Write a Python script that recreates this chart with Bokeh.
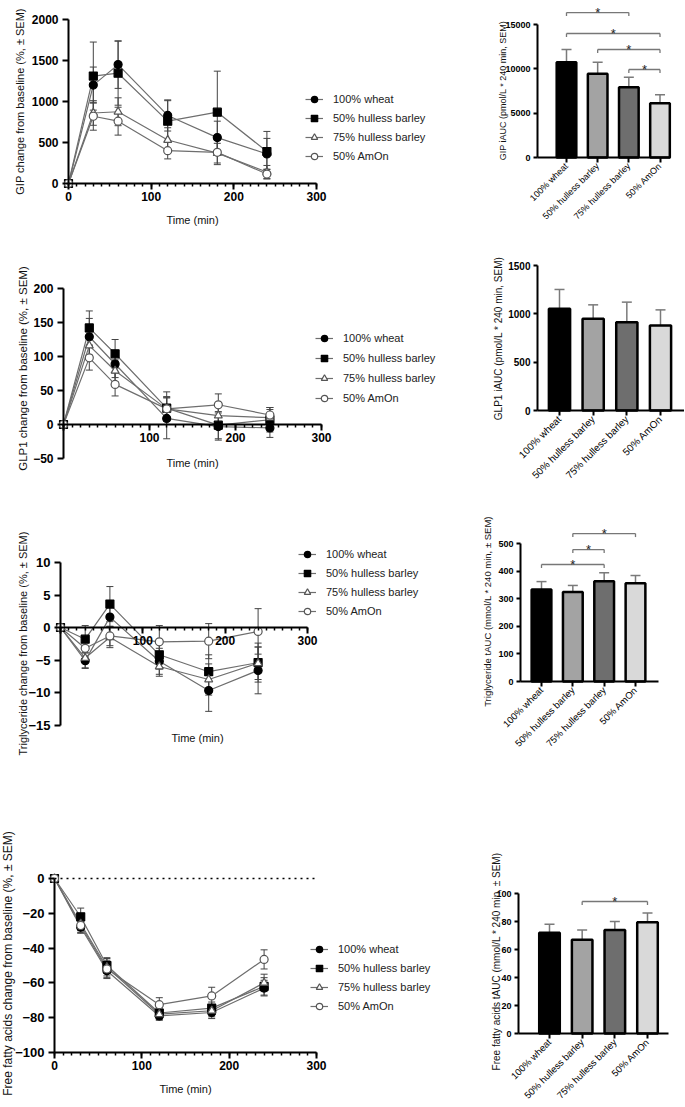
import math
from bokeh.plotting import figure
from bokeh.models import (Range1d, FixedTicker, SingleIntervalTicker, Whisker, TeeHead,
                          ColumnDataSource, Legend, LegendItem, Label)
from bokeh.layouts import row, column
from bokeh.embed import file_html
from bokeh.resources import INLINE
from bokeh.core.properties import value

FONT = "Liberation Sans"

# ---------------- data ----------------
time_min = [0, 30, 60, 120, 180, 240]
groups = ["100% wheat", "50% hulless barley", "75% hulless barley", "50% AmOn"]

gip_wheat = [0, 1200, 1450, 830, 560, 360]
gip_wheat_sem = [0, 220, 290, 190, 200, 190]
gip_h50 = [0, 1310, 1345, 760, 870, 390]
gip_h50_sem = [0, 415, 390, 250, 500, 245]
gip_h75 = [0, 860, 875, 530, 370, 140]
gip_h75_sem = [0, 150, 170, 150, 120, 80]
gip_amon = [0, 820, 760, 400, 380, 115]
gip_amon_sem = [0, 170, 170, 100, 150, 60]

glp1_wheat = [0, 129, 89, 9, -3, -5]
glp1_wheat_sem = [0, 27, 20, 30, 20, 14]
glp1_h50 = [0, 142, 104, 24, -1, 7]
glp1_h50_sem = [0, 25, 21, 24, 20, 18]
glp1_h75 = [0, 116, 79, 23, 13, 10]
glp1_h75_sem = [0, 20, 16, 18, 15, 12]
glp1_amon = [0, 98, 59, 23, 29, 14]
glp1_amon_sem = [0, 18, 17, 17, 16, 11]

tg_wheat = [0, -5.1, 1.6, -5.2, -9.7, -6.6]
tg_wheat_sem = [0, 1.2, 1.5, 2.0, 3.2, 3.6]
tg_h50 = [0, -1.8, 3.6, -4.2, -6.8, -5.4]
tg_h50_sem = [0, 2.1, 2.7, 2.2, 2.6, 3.0]
tg_h75 = [0, -4.7, -1.5, -6.0, -8.0, -5.5]
tg_h75_sem = [0, 1.5, 1.6, 1.5, 2.4, 2.5]
tg_amon = [0, -3.2, -1.3, -2.2, -2.1, -0.6]
tg_amon_sem = [0, 1.2, 1.5, 2.5, 2.7, 3.5]

ffa_wheat = [0, -28, -53, -79, -77, -63]
ffa_wheat_sem = [0, 3.5, 4.5, 2.5, 3.5, 4.5]
ffa_h50 = [0, -22, -50, -77.3, -74.5, -62]
ffa_h50_sem = [0, 5, 4.5, 3, 3.5, 5]
ffa_h75 = [0, -26, -51, -78, -76, -60]
ffa_h75_sem = [0, 4, 5, 3, 3.5, 5]
ffa_amon = [0, -27, -52, -72.5, -67.5, -46.5]
ffa_amon_sem = [0, 4, 5, 4, 5, 5.5]

gip_auc = [10750, 9440, 7930, 6130]
gip_auc_sem = [1430, 1310, 1130, 940]
glp1_auc = [1052, 948, 914, 879]
glp1_auc_sem = [200, 145, 207, 162]
tg_auc = [333, 324, 363, 356]
tg_auc_sem = [29, 24, 31, 28]
ffa_auc = [72, 67, 74, 79.5]
ffa_auc_sem = [6, 7, 6, 6.5]

# significance brackets: (group a, group b, height in data units)
gip_sig = [(1, 3, 16350), (1, 4, 13985), (2, 4, 12180), (3, 4, 9925)]
tg_sig = [(2, 4, 536), (2, 3, 478), (1, 3, 424)]
ffa_sig = [(2, 4, 94.3)]

gip_yticks = [0, 500, 1000, 1500, 2000]
glp1_yticks = [-50, 0, 50, 100, 150, 200]
tg_yticks = [-15, -10, -5, 0, 5, 10]
ffa_yticks = [-100, -80, -60, -40, -20, 0]
gip_auc_ticks = [0, 5000, 10000, 15000]
glp1_auc_ticks = [0, 500, 1000, 1500]
tg_auc_ticks = [0, 100, 200, 300, 400, 500]
ffa_auc_ticks = [0, 20, 40, 60, 80, 100]

# ---------------- styling ----------------
MARKERS = [("circle", "black", "black"), ("square", "black", "black"),
           ("triangle", "white", "#555555"), ("circle", "white", "#555555")]
BAR_COLORS = ["#000000", "#a3a3a3", "#6e6e6e", "#d9d9d9"]
TITLE_COLOR = "#111111"


def to_value(px, m):
    v0, p0, v1, p1 = m
    return v0 + (px - p0) * (v1 - v0) / (p1 - p0)


def make_fig(box, xmap, ymap):
    fx, fy, fw, fh = box
    p = figure(width=fw, height=fh,
               x_range=Range1d(to_value(fx, xmap), to_value(fx + fw, xmap)),
               y_range=Range1d(to_value(fy + fh, ymap), to_value(fy, ymap)),
               toolbar_location=None, output_backend="svg",
               min_border_left=0, min_border_right=0, min_border_top=0, min_border_bottom=0)
    p.outline_line_color = None
    p.xgrid.visible = False
    p.ygrid.visible = False
    p.background_fill_color = "white"
    p.border_fill_color = "white"
    vx = lambda px: to_value(px, xmap)
    vy = lambda py: to_value(py, ymap)
    return p, vx, vy


def style_axis(ax, tick_fs, lw=2):
    ax.axis_line_width = lw
    ax.axis_line_color = "black"
    ax.major_tick_line_width = lw
    ax.major_tick_line_color = "black"
    ax.major_tick_in = 0
    ax.major_tick_out = 6
    ax.minor_tick_line_width = 1.5
    ax.minor_tick_line_color = "black"
    ax.minor_tick_in = 0
    ax.minor_tick_out = 3
    ax.major_label_text_font = FONT
    ax.major_label_text_font_style = "bold"
    ax.major_label_text_font_size = f"{tick_fs}px"
    ax.major_label_text_color = "black"


def title_label(p, x, y, text, fs, vertical):
    p.add_layout(Label(x=x, y=y, text=text, angle=(math.pi / 2 if vertical else 0),
                       text_align="center", text_baseline="middle", text_font=FONT,
                       text_font_size=f"{fs}px", text_color=TITLE_COLOR))


def line_panel(box, xmap, ymap, series, sems, yticks, xaxis_at, ylabel, ytitle_xy, ytitle_fs,
               xtitle_xy, legend_left, legend_bottom, legend_spacing, tick_fs, hide_x0):
    p, vx, vy = make_fig(box, xmap, ymap)
    fx, fy, fw, fh = box
    yax = p.yaxis[0]
    xax = p.xaxis[0]
    yax.fixed_location = 0
    yax.bounds = (min(yticks), max(yticks))
    yax.ticker = FixedTicker(ticks=yticks)
    style_axis(yax, tick_fs)
    yax.major_label_standoff = 4
    xax.fixed_location = xaxis_at
    xax.bounds = (0, 300)
    xax.ticker = SingleIntervalTicker(interval=100, num_minor_ticks=10)
    style_axis(xax, 12)
    xax.major_label_standoff = 2
    if hide_x0:
        xax.major_label_overrides = {0: ""}
    title_label(p, vx(ytitle_xy[0]), vy(ytitle_xy[1]), ylabel, ytitle_fs, True)
    title_label(p, vx(xtitle_xy[0]), vy(xtitle_xy[1]), "Time (min)", 11, False)

    line_rs = []
    for vals in series:
        line_rs.append(p.line(time_min, vals, line_color="#6e6e6e", line_width=1.2))
    for vals, sem in zip(series, sems):
        src = ColumnDataSource(dict(
            x=[t for t, s in zip(time_min, sem) if s > 0],
            lo=[v - s for v, s in zip(vals, sem) if s > 0],
            hi=[v + s for v, s in zip(vals, sem) if s > 0]))
        p.add_layout(Whisker(source=src, base="x", lower="lo", upper="hi",
                             line_color="#444444", line_width=1,
                             upper_head=TeeHead(size=7, line_color="#444444", line_width=1),
                             lower_head=TeeHead(size=7, line_color="#444444", line_width=1)))
    items = []
    for k, vals in enumerate(series):
        mk, fill, line = MARKERS[k]
        sr = p.scatter(time_min, vals, marker=mk, size=8, fill_color=fill,
                       line_color=line, line_width=1.2)
        items.append(LegendItem(label=groups[k], renderers=[line_rs[k], sr]))
    leg = Legend(items=items, location=(legend_left - fx, fy + fh - legend_bottom),
                 orientation="vertical", padding=0, margin=0, spacing=legend_spacing,
                 glyph_width=18, glyph_height=16, label_height=16, label_standoff=10,
                 label_text_font=FONT, label_text_font_size="11px",
                 label_text_color="#222222", border_line_color=None,
                 background_fill_alpha=0)
    p.add_layout(leg)
    return p, vx, vy


def bar_panel(box, xmap, ymap, axis_left, axis_right, vals, sems, yticks, ylabel,
              ytitle_xy, sig, tick_fs, cat_fs, label_fs):
    p, vx, vy = make_fig(box, xmap, ymap)
    pos = list(range(1, len(groups) + 1))
    src = ColumnDataSource(dict(x=pos, lo=vals, hi=[v + s for v, s in zip(vals, sems)]))
    p.add_layout(Whisker(source=src, base="x", lower="lo", upper="hi", lower_head=None,
                         upper_head=TeeHead(size=10, line_color="#7a7a7a", line_width=1.5),
                         line_color="#7a7a7a", line_width=1.5))
    p.vbar(x=pos, top=vals, bottom=0, width=0.63, fill_color=BAR_COLORS,
           line_color="black", line_width=2.5)
    yax = p.yaxis[0]
    xax = p.xaxis[0]
    yax.fixed_location = vx(axis_left)
    yax.bounds = (0, max(yticks))
    yax.ticker = FixedTicker(ticks=yticks)
    style_axis(yax, tick_fs)
    yax.major_tick_out = 4
    yax.major_label_standoff = 3
    xax.fixed_location = 0
    xax.bounds = (vx(axis_left), vx(axis_right))
    xax.ticker = FixedTicker(ticks=pos)
    xax.major_label_overrides = {i: g for i, g in zip(pos, groups)}
    xax.major_label_orientation = math.pi / 4
    style_axis(xax, cat_fs)
    xax.major_label_text_font_style = "normal"
    xax.major_tick_out = 5
    xax.major_label_standoff = 2
    title_label(p, vx(ytitle_xy[0]), vy(ytitle_xy[1]), ylabel, label_fs, True)
    # significance brackets
    tick = vy(0) - vy(3.5)
    bx0, by0, bx1, by1 = [], [], [], []
    sx, sy = [], []
    for a, b, h in sig:
        bx0 += [a, a, b]
        by0 += [h, h, h]
        bx1 += [b, a, b]
        by1 += [h, h - tick, h - tick]
        sx.append((a + b) / 2)
        sy.append(h)
    if sig:
        p.segment(bx0, by0, bx1, by1, line_color="#777777", line_width=1.3)
        p.text(sx, sy, text=["*"] * len(sx), text_align="center",
               text_baseline="alphabetic", text_font=value(FONT),
               text_font_size="13px", text_color="#222222")
    return p


# ---------------- panels (all positions in page pixels) ----------------
pA, _, _ = line_panel((0, 0, 440, 240), (0, 68, 300, 316), (0, 183, 2000, 19),
                      [gip_wheat, gip_h50, gip_h75, gip_amon],
                      [gip_wheat_sem, gip_h50_sem, gip_h75_sem, gip_amon_sem],
                      gip_yticks, 0, "GIP change from baseline (%, \u00b1 SEM)", (19, 101), 11,
                      (192, 219), 305, 164, 3, 12, False)
pB = bar_panel((440, 0, 244, 240), (1, 566, 4, 659.5), (0, 157, 15000, 24), 537, 670,
               gip_auc, gip_auc_sem, gip_auc_ticks, "GIP iAUC (pmol/L * 240 min, SEM)",
               (502, 90), gip_sig, 9, 9, 9)
pC, _, _ = line_panel((0, 240, 440, 260), (0, 63, 300, 321), (0, 424, 200, 288),
                      [glp1_wheat, glp1_h50, glp1_h75, glp1_amon],
                      [glp1_wheat_sem, glp1_h50_sem, glp1_h75_sem, glp1_amon_sem],
                      glp1_yticks, 0, "GLP1 change from baseline (%, \u00b1 SEM)", (22, 368), 11.5,
                      (192, 462), 315, 406, 4, 12, True)
pD = bar_panel((440, 240, 244, 260), (1, 559, 4, 660), (0, 410, 1500, 265), 537, 684,
               glp1_auc, glp1_auc_sem, glp1_auc_ticks, "GLP1 iAUC (pmol/L * 240 min, SEM)",
               (498, 338), [], 10, 10, 10)
pE, _, _ = line_panel((0, 500, 440, 290), (0, 60, 300, 307), (0, 627, 10, 562),
                      [tg_wheat, tg_h50, tg_h75, tg_amon],
                      [tg_wheat_sem, tg_h50_sem, tg_h75_sem, tg_amon_sem],
                      tg_yticks, 0, "Triglyceride change from baseline (%, \u00b1 SEM)", (22, 643), 11,
                      (197, 737), 298, 619, 3, 13, True)
pF = bar_panel((440, 500, 244, 290), (1, 541, 4, 635), (0, 681, 500, 543), 520, 658,
               tg_auc, tg_auc_sem, tg_auc_ticks,
               "Triglyceride tAUC (mmol/L * 240 min, \u00b1 SEM)", (487, 611), tg_sig, 9, 9.5, 9.5)
pG, gvx, gvy = line_panel((0, 790, 440, 316), (0, 54, 300, 316), (0, 878, -100, 1052),
                          [ffa_wheat, ffa_h50, ffa_h75, ffa_amon],
                          [ffa_wheat_sem, ffa_h50_sem, ffa_h75_sem, ffa_amon_sem],
                          ffa_yticks, -100, "Free fatty acids change from baseline (%, \u00b1 SEM)",
                          (7, 963), 12, (185, 1088), 310, 1014, 3, 13, False)
# dotted zero reference line in the FFA panel (spans the time axis)
pG.line([0, 300], [0, 0], line_color="black", line_width=1.5, line_dash="2 4")
pH = bar_panel((440, 790, 244, 316), (1, 549, 4, 647), (0, 1033, 100, 893), 518, 668,
               ffa_auc, ffa_auc_sem, ffa_auc_ticks,
               "Free fatty acids tAUC (mmol/L * 240 min, \u00b1 SEM)", (496, 961), ffa_sig, 9, 9.5, 10)

layout = column(row(pA, pB), row(pC, pD), row(pE, pF), row(pG, pH))

open("out.html", "w").write(file_html(layout, INLINE))
